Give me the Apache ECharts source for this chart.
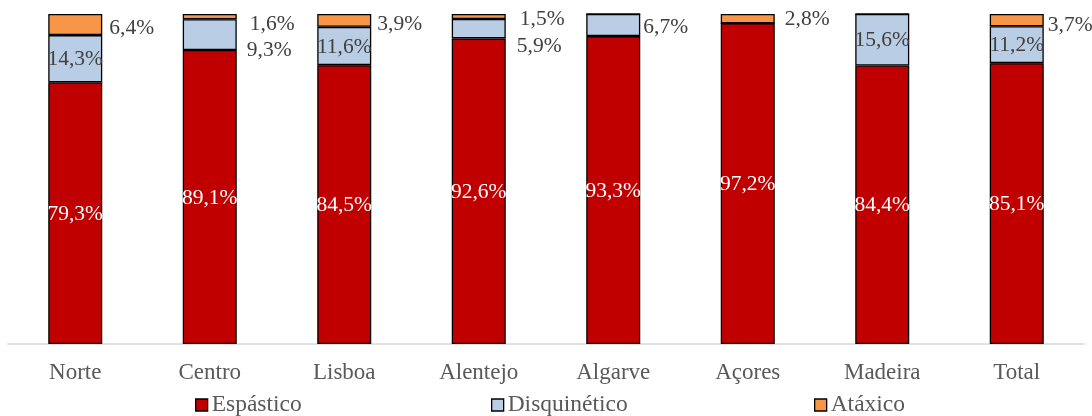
<!DOCTYPE html>
<html>
<head>
<meta charset="utf-8">
<script src="https://cdn.jsdelivr.net/npm/echarts@6/dist/echarts.min.js"></script>
<style>
  html, body { margin: 0; padding: 0; background: #fff; }
  #chart { width: 1092px; height: 416px; }
</style>
</head>
<body>
<div id="chart"></div>
<script>
// Regions and the share (%) of each cerebral palsy type
const categories = ['Norte', 'Centro', 'Lisboa', 'Alentejo', 'Algarve', 'Açores', 'Madeira', 'Total'];
const espastico   = [79.3, 89.1, 84.5, 92.6, 93.3, 97.2, 84.4, 85.1];
const disquinetico = [14.3, 9.3, 11.6, 5.9, 6.7, 0, 15.6, 11.2];
const ataxico     = [6.4, 1.6, 3.9, 1.5, 0, 2.8, 0, 3.7];
const seriesNames = ['Espástico', 'Disquinético', 'Atáxico'];

// Small segments get their label beside the bar, nudged apart [dx, dy]
const disquineticoOutside = { 1: [5, 16], 3: [6, 18], 4: [-2, 2] };
const ataxicoOutside = { 0: [2, 4], 1: [8, 8], 2: [1, 4], 3: [9, 3], 5: [5, 1], 7: [-1, 5] };

const FONT = "'Liberation Serif', 'Times New Roman', serif";
const fmt = v => v.toFixed(1).replace('.', ',') + '%';

function buildData(values, outside, insideColor) {
  return values.map((v, i) => {
    if (!v) return { value: 0, label: { show: false } };
    const nudge = outside && outside[i];
    const label = nudge
      ? { position: 'right', distance: 5, offset: nudge, color: '#404040' }
      : { position: 'inside', color: insideColor, offset: [0, 1] };
    return { value: v, label };
  });
}

const baseLabel = {
  show: true,
  fontFamily: FONT,
  fontSize: 21.5,
  formatter: p => fmt(p.value)
};

const barStyle = color => ({ color, borderColor: '#000', borderWidth: 1.3 });

const chart = echarts.init(document.getElementById('chart'));
chart.setOption({
  animation: false,
  grid: { left: 8, right: 8, top: 14, bottom: 72, containLabel: false },
  xAxis: {
    type: 'category',
    data: categories,
    axisLine: { lineStyle: { color: '#D9D9D9', width: 1.5 } },
    axisTick: { show: false },
    axisLabel: { color: '#595959', fontFamily: FONT, fontSize: 23, margin: 17 }
  },
  yAxis: {
    type: 'value', min: 0, max: 100, interval: 20,
    show: false, splitLine: { show: false }
  },
  legend: [
    { data: [seriesNames[0]], left: 190, top: 388 },
    { data: [seriesNames[1]], left: 486, top: 388 },
    { data: [seriesNames[2]], left: 809, top: 388 }
  ].map(l => Object.assign(l, {
    icon: 'rect', itemWidth: 12, itemHeight: 12, itemGap: 0,
    itemStyle: { borderColor: '#000', borderWidth: 1.3 },
    textStyle: { color: '#595959', fontFamily: FONT, fontSize: 23.5, padding: [0, 0, 0, -1] }
  })),
  series: [
    {
      name: seriesNames[0], type: 'bar', stack: 'all', barWidth: 54,
      itemStyle: barStyle('#C00000'),
      label: Object.assign({}, baseLabel),
      data: buildData(espastico, null, '#FFFFFF')
    },
    {
      name: seriesNames[1], type: 'bar', stack: 'all', barWidth: 54,
      itemStyle: barStyle('#B9CDE5'),
      label: Object.assign({}, baseLabel),
      data: buildData(disquinetico, disquineticoOutside, '#404040')
    },
    {
      name: seriesNames[2], type: 'bar', stack: 'all', barWidth: 54,
      itemStyle: barStyle('#F79646'),
      label: Object.assign({}, baseLabel),
      data: buildData(ataxico, Object.fromEntries(ataxico.map((v, i) => [i, ataxicoOutside[i] || [0, 0]])), '#404040')
    }
  ]
});
</script>
</body>
</html>
